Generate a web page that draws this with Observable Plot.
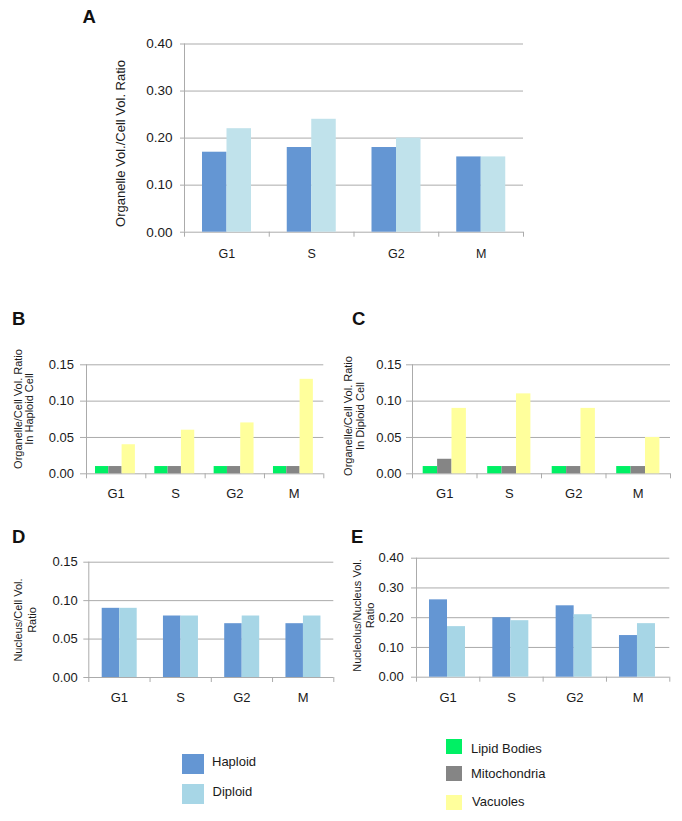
<!DOCTYPE html>
<html><head><meta charset="utf-8">
<script src="https://cdn.jsdelivr.net/npm/d3@7"></script>
<script src="https://cdn.jsdelivr.net/npm/@observablehq/plot@0.6"></script>
<style>
body{margin:0;background:#fff;}
#fig{position:relative;width:682px;height:821px;font-family:"Liberation Sans",Arial,sans-serif;overflow:hidden;background:#fff;color:#1a1a1a;}
.sw{position:absolute;}
.lt{position:absolute;font-size:13px;line-height:16px;white-space:nowrap;color:#1a1a1a;}
</style></head><body><div id="fig"></div>
<script>
// ---- data ----
const phases = ["G1", "S", "G2", "M"];
const ploidyNames = ["Haploid", "Diploid"];
const organelleNames = ["Lipid Bodies", "Mitochondria", "Vacuoles"];

const aHaploid = [0.17, 0.18, 0.18, 0.16];
const aDiploid = [0.22, 0.24, 0.20, 0.16];

const bLipid = [0.01, 0.01, 0.01, 0.01];
const bMito = [0.01, 0.01, 0.01, 0.01];
const bVacuole = [0.04, 0.06, 0.07, 0.13];

const cLipid = [0.01, 0.01, 0.01, 0.01];
const cMito = [0.02, 0.01, 0.01, 0.01];
const cVacuole = [0.09, 0.11, 0.09, 0.05];

const dHaploid = [0.09, 0.08, 0.07, 0.07];
const dDiploid = [0.09, 0.08, 0.08, 0.08];

const eHaploid = [0.26, 0.20, 0.24, 0.14];
const eDiploid = [0.17, 0.19, 0.21, 0.18];

const ticksA = [0, 0.1, 0.2, 0.3, 0.4];
const ticksSmall = [0, 0.05, 0.10, 0.15];
const ticksE = [0, 0.1, 0.2, 0.3, 0.4];

const titleA = ["Organelle Vol./Cell Vol. Ratio"];
const titleB = ["Organelle/Cell Vol. Ratio", "In Haploid Cell"];
const titleC = ["Organelle/Cell Vol. Ratio", "In Diploid Cell"];
const titleD = ["Nucleus/Cell Vol.", "Ratio"];
const titleE = ["Nucleolus/Nucleus Vol.", "Ratio"];
const panelLetters = ["A", "B", "C", "D", "E"];

// ---- styles ----
const colHaploid = "#6496d3";
const colDiploidA = "#c0e2eb";
const colDiploid = "#a7d6e6";
const colLipid = "#00f064";
const colMito = "#858585";
const colVacuole = "#ffff9c";
const gridColor = "#ababab";
const textColor = "#1a1a1a";
const fontFamily = '"Liberation Sans", Arial, sans-serif';

const fig = document.getElementById("fig");

function panel(c) {
  const rows = [];
  c.series.forEach((s, si) => s.values.forEach((v, i) => rows.push({phase: phases[i], series: s.name, value: v, si})));
  const bw = (c.width - c.mL - c.mR) / phases.length;
  const last = phases[phases.length - 1];
  const marks = [
    Plot.gridY(c.ticks, {stroke: gridColor, strokeOpacity: 1, insetLeft: -c.tickLen}),
    Plot.ruleX([phases[0]], {dx: -bw / 2, y1: 0, y2: c.yMax, stroke: gridColor}),
    ...c.series.map((s, si) => Plot.barY(rows.filter(r => r.si === si), {
      x: "phase", y: "value", fill: s.color,
      insetLeft: c.off + si * c.barW,
      insetRight: bw - c.off - (si + 1) * c.barW
    })),
    Plot.ruleX(phases, {dx: -bw / 2, y1: 0, y2: 0, insetBottom: -5, stroke: gridColor}),
    Plot.ruleX([last], {dx: bw / 2, y1: 0, y2: 0, insetBottom: -5, stroke: gridColor}),
    Plot.axisY(c.ticks, {tickSize: 0, tickPadding: c.yPad, tickFormat: d3.format(".2f"), fontSize: c.yFont, label: null, fill: textColor}),
    Plot.axisX({tickSize: 0, tickPadding: c.xPad, fontSize: c.xFont, label: null, fill: textColor})
  ];
  const svg = Plot.plot({
    width: c.width, height: c.height,
    marginLeft: c.mL, marginRight: c.mR, marginTop: c.mT, marginBottom: c.mB,
    x: {type: "band", domain: phases, padding: 0, round: false, axis: null},
    y: {domain: [0, c.yMax], axis: null},
    style: {fontFamily, color: textColor, background: "transparent", overflow: "visible"},
    marks
  });
  svg.style.position = "absolute";
  svg.style.left = c.left + "px";
  svg.style.top = c.top + "px";
  fig.appendChild(svg);
}

panel({left: 60, top: 0, width: 480, height: 270, mL: 124, mR: 17, mT: 43.5, mB: 38.3,
  yMax: 0.4, ticks: ticksA, off: 18, barW: 24.5, tickLen: 4,
  series: [{name: ploidyNames[0], values: aHaploid, color: colHaploid}, {name: ploidyNames[1], values: aDiploid, color: colDiploidA}],
  yPad: 12, yFont: 13.5, xPad: 16.6, xFont: 12.5});

panel({left: 0, top: 320, width: 340, height: 190, mL: 86, mR: 16.7, mT: 44.3, mB: 36.7,
  yMax: 0.15, ticks: ticksSmall, off: 9, barW: 13.3, tickLen: 6,
  series: [{name: organelleNames[0], values: bLipid, color: colLipid}, {name: organelleNames[1], values: bMito, color: colMito}, {name: organelleNames[2], values: bVacuole, color: colVacuole}],
  yPad: 12.5, yFont: 13, xPad: 15, xFont: 13});

panel({left: 340, top: 320, width: 342, height: 190, mL: 72, mR: 12, mT: 44.3, mB: 36.7,
  yMax: 0.15, ticks: ticksSmall, off: 10.7, barW: 14.4, tickLen: 6,
  series: [{name: organelleNames[0], values: cLipid, color: colLipid}, {name: organelleNames[1], values: cMito, color: colMito}, {name: organelleNames[2], values: cVacuole, color: colVacuole}],
  yPad: 11, yFont: 13, xPad: 15, xFont: 13});

panel({left: 0, top: 520, width: 340, height: 200, mL: 88.3, mR: 6.7, mT: 41.7, mB: 43,
  yMax: 0.15, ticks: ticksSmall, off: 13.4, barW: 17.5, tickLen: 5,
  series: [{name: ploidyNames[0], values: dHaploid, color: colHaploid}, {name: ploidyNames[1], values: dDiploid, color: colDiploid}],
  yPad: 11, yFont: 13, xPad: 15.3, xFont: 13});

panel({left: 340, top: 520, width: 342, height: 200, mL: 76, mR: 12.7, mT: 37.7, mB: 43.3,
  yMax: 0.4, ticks: ticksE, off: 13, barW: 18, tickLen: 5,
  series: [{name: ploidyNames[0], values: eHaploid, color: colHaploid}, {name: ploidyNames[1], values: eDiploid, color: colDiploid}],
  yPad: 12.7, yFont: 13, xPad: 15.6, xFont: 13});

// overlay: panel letters and y-axis titles
const ns = "http://www.w3.org/2000/svg";
const ov = document.createElementNS(ns, "svg");
ov.setAttribute("width", 682); ov.setAttribute("height", 821);
ov.style.position = "absolute"; ov.style.left = "0"; ov.style.top = "0"; ov.style.pointerEvents = "none";
fig.appendChild(ov);

const letterPos = [[82.5, 23.3], [12, 325], [352, 325], [12, 543], [351, 543]];
panelLetters.forEach((t, i) => {
  const el = document.createElementNS(ns, "text");
  el.setAttribute("x", letterPos[i][0]); el.setAttribute("y", letterPos[i][1]);
  el.setAttribute("font-family", fontFamily);
  el.setAttribute("font-size", 18.5); el.setAttribute("font-weight", "bold"); el.setAttribute("fill", "#111");
  el.textContent = t;
  ov.appendChild(el);
});

function yTitle(lines, xs, cy, size) {
  lines.forEach((line, i) => {
    const el = document.createElementNS(ns, "text");
    el.setAttribute("transform", `translate(${xs[i]},${cy}) rotate(-90)`);
    el.setAttribute("text-anchor", "middle");
    el.setAttribute("dominant-baseline", "central");
    el.setAttribute("font-family", fontFamily);
    el.setAttribute("font-size", size);
    el.setAttribute("fill", textColor);
    el.textContent = line;
    ov.appendChild(el);
  });
}
yTitle(titleA, [120], 143.5, 13);
yTitle(titleB, [17.5, 29], 409, 11);
yTitle(titleC, [348, 359.5], 416, 11);
yTitle(titleD, [18.3, 31.7], 620, 11);
yTitle(titleE, [357.3, 370], 615.5, 11);

// legends
function legendItem(name, color, sx, sy, sw, sh, tx, tcy) {
  const s = document.createElement("div");
  s.className = "sw";
  Object.assign(s.style, {left: sx + "px", top: sy + "px", width: sw + "px", height: sh + "px", background: color});
  fig.appendChild(s);
  const t = document.createElement("div");
  t.className = "lt";
  Object.assign(t.style, {left: tx + "px", top: (tcy - 8) + "px"});
  t.textContent = name;
  fig.appendChild(t);
}
legendItem(ploidyNames[0], colHaploid, 182, 754, 22, 20, 212, 762.3);
legendItem(ploidyNames[1], colDiploid, 182, 784, 22, 20, 212.5, 792.3);
legendItem(organelleNames[0], colLipid, 446, 739, 16, 15, 471, 749);
legendItem(organelleNames[1], colMito, 446, 766, 16, 15, 471, 774);
legendItem(organelleNames[2], colVacuole, 446, 794.5, 16, 15.5, 472, 802.3);
</script></body></html>
